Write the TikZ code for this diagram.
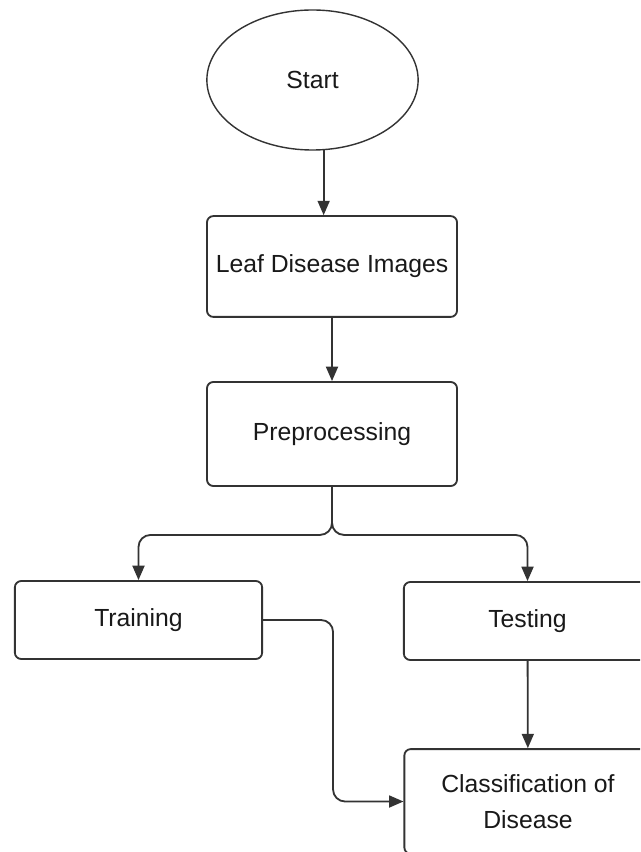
\documentclass[tikz,border=0pt]{standalone}
\usepackage{fontspec}
\setmainfont{Liberation Sans}
\usetikzlibrary{shapes.geometric,arrows.meta}

\begin{document}
\begin{tikzpicture}[x=0.025cm, y=-0.025cm,
		font=\fontsize{17.6}{26}\selectfont, text=black!90,
		box/.style={draw=black!80, line width=1.3pt, rounded corners=0.16cm, align=center, inner sep=0pt},
		link/.style={draw=black!80, line width=1.3pt, -{Triangle[length=0.36cm, width=0.3cm]}}]
			\useasboundingbox (0,0) rectangle (640,852);
			\clip (0,0) rectangle (640,852);
			\fill[white] (0,0) rectangle (640,852);

			\draw node[ellipse, draw=black!80, line width=1pt, minimum width=5.28cm, minimum height=3.5cm, inner sep=0pt] (1) at (312.5,80) {Start};
			\draw node[box, minimum width=6.25cm, minimum height=2.52cm] (2) at (332,266.5) {Leaf Disease Images};
			\draw node[box, minimum width=6.25cm, minimum height=2.6cm] (3) at (332,434) {Preprocessing};
			\draw node[box, minimum width=6.18cm, minimum height=1.95cm] (4) at (138.5,620) {Training};
			\draw node[box, minimum width=6.18cm, minimum height=1.95cm] (5) at (527.5,621) {Testing};
			\draw node[box, minimum width=6.18cm, minimum height=2.62cm] (6) at (528,801.5) {Classification of\\Disease};

			\draw[link] (1.-81.5) -- (1.-81.5 |- 2.north);
			\draw[link] (2) -- (3);
			\draw[link, rounded corners=0.3cm] (3.south) -- ++(0,48) -| (4.north);
			\draw[link, rounded corners=0.3cm] (3.south) -- ++(0,48) -| (5.north);
			\draw[link, rounded corners=0.3cm] (4.east) -- ++(70,0) |- (6.west);
			\draw[link] (5) -- (6);
		\end{tikzpicture}
\end{document}
